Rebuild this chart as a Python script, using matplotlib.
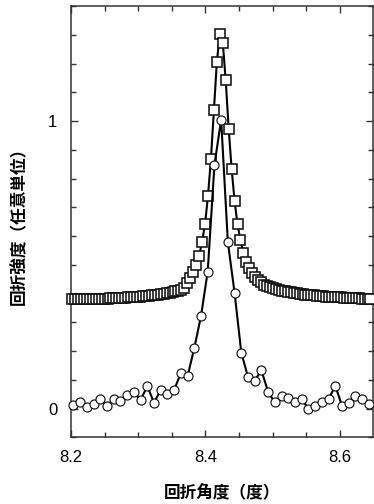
import matplotlib
matplotlib.use("Agg")
import matplotlib.pyplot as plt
from matplotlib.ticker import MultipleLocator, FixedLocator

# ---- data ----
sq_x = [8.2015, 8.2059, 8.2103, 8.2147, 8.2191, 8.2235, 8.2279, 8.2323, 8.2367, 8.2411,
        8.2455, 8.2499, 8.2543, 8.2587, 8.2631, 8.2675, 8.2719, 8.2763, 8.2807, 8.2851,
        8.2895, 8.2939, 8.2983, 8.3027, 8.3071, 8.3115, 8.3159, 8.3203, 8.3247, 8.3291,
        8.3335, 8.3379, 8.3423, 8.3467, 8.3511, 8.3555, 8.3599, 8.3643, 8.3687, 8.3731,
        8.3775, 8.3819, 8.3863, 8.3907, 8.3951, 8.3995, 8.4039, 8.4083, 8.4127, 8.4171,
        8.4215, 8.4259, 8.4303, 8.4347, 8.4391, 8.4435, 8.4479, 8.4523, 8.4567, 8.4611,
        8.4655, 8.4699, 8.4743, 8.4787, 8.4831, 8.4875, 8.4919, 8.4963, 8.5007, 8.5051,
        8.5095, 8.5139, 8.5183, 8.5227, 8.5271, 8.5315, 8.5359, 8.5403, 8.5447, 8.5491,
        8.5535, 8.5579, 8.5623, 8.5667, 8.5711, 8.5755, 8.5799, 8.5843, 8.5887, 8.5931,
        8.5975, 8.6019, 8.6063, 8.6107, 8.6151, 8.6195, 8.6239, 8.6283, 8.6327, 8.6371,
        8.6415, 8.6459]
sq_y = [0.380, 0.380, 0.380, 0.381, 0.381, 0.381, 0.381, 0.382, 0.382, 0.382,
        0.383, 0.383, 0.383, 0.384, 0.384, 0.385, 0.385, 0.386, 0.386, 0.387,
        0.388, 0.388, 0.389, 0.390, 0.391, 0.392, 0.393, 0.394, 0.395, 0.397,
        0.398, 0.400, 0.402, 0.404, 0.406, 0.408, 0.411, 0.414,
        0.418, 0.436, 0.455, 0.476, 0.499, 0.532, 0.580, 0.642, 0.740, 0.869,
        1.037, 1.206, 1.302, 1.273, 1.142, 0.974, 0.834, 0.722, 0.641, 0.585,
        0.542, 0.511, 0.490, 0.473, 0.459, 0.447, 0.439, 0.430,
        0.426, 0.422, 0.419, 0.416, 0.413, 0.411, 0.409, 0.407, 0.405, 0.403,
        0.401, 0.400, 0.398, 0.397, 0.396, 0.395, 0.394, 0.393, 0.392, 0.391,
        0.390, 0.389, 0.389, 0.388, 0.387, 0.387, 0.386, 0.386, 0.385, 0.385,
        0.384, 0.384, 0.383, 0.383, 0.382, 0.382]

ci_x = [8.2035, 8.2135, 8.2235, 8.2335, 8.2435, 8.2535, 8.2635, 8.2735, 8.2835, 8.2935,
        8.3035, 8.3135, 8.3235, 8.3335, 8.3435, 8.3535, 8.3635, 8.3735, 8.3835, 8.3935,
        8.4035, 8.4135, 8.4235, 8.4335, 8.4435, 8.4535, 8.4635, 8.4735, 8.4835, 8.4935,
        8.5035, 8.5135, 8.5235, 8.5335, 8.5435, 8.5535, 8.5635, 8.5735, 8.5835, 8.5935,
        8.6035, 8.6135, 8.6235, 8.6335, 8.6435]
ci_y = [0.014, 0.022, 0.007, 0.016, 0.033, 0.010, 0.034, 0.026, 0.047, 0.058,
        0.030, 0.079, 0.021, 0.065, 0.051, 0.065, 0.124, 0.113, 0.211, 0.322,
        0.477, 0.847, 1.005, 0.579, 0.403, 0.195, 0.110, 0.098, 0.133, 0.058,
        0.022, 0.045, 0.036, 0.022, 0.034, -0.001, 0.010, 0.022, 0.033, 0.080,
        0.010, 0.021, 0.045, 0.033, 0.016]

x_ticks = [8.2, 8.4, 8.6]
x_ticklabels = ["8.2", "8.4", "8.6"]
x_minor = [8.25, 8.3, 8.35, 8.45, 8.5, 8.55]
y_ticks = [0, 1]
y_ticklabels = ["0", "1"]
xlabel = "回折角度（度）"
ylabel = "回折強度（任意単位）"

# ---- figure ----
fig = plt.figure(figsize=(3.74, 5.04), dpi=100)
ax = fig.add_axes([0.190, 0.132, 0.808, 0.856])

ax.plot(sq_x, sq_y, color="black", lw=1.5, marker="s", ms=7.6,
        mfc="white", mec="#111111", mew=1.15, clip_on=False, zorder=3)
ax.plot(ci_x, ci_y, color="black", lw=1.5, marker="o", ms=6.5,
        mfc="white", mec="#111111", mew=0.85, clip_on=False, zorder=4)

ax.set_xlim(8.2, 8.65)
ax.set_ylim(-0.1, 1.4)

ax.set_xticks(x_ticks)
ax.set_xticklabels(x_ticklabels)
ax.xaxis.set_minor_locator(FixedLocator(x_minor))
ax.set_yticks(y_ticks)
ax.set_yticklabels(y_ticklabels)
ax.yaxis.set_minor_locator(MultipleLocator(0.1))

ax.tick_params(which="both", direction="in", top=True, right=True,
               color="#333333", width=1.0)
ax.tick_params(which="major", length=5, pad=9, labelsize=12)
ax.tick_params(which="minor", length=3.5)
for lab in ax.get_xticklabels() + ax.get_yticklabels():
    lab.set_family(["Liberation Sans", "DejaVu Sans"])
ax.tick_params(axis="y", pad=10)

for sp in ax.spines.values():
    sp.set_linewidth(1.1)
    sp.set_color("#333333")

ax.set_xlabel(xlabel, family=["Noto Sans CJK JP", "DejaVu Sans"], fontsize=12,
              fontweight="bold", labelpad=14)
ax.set_ylabel(ylabel, family=["Noto Sans CJK JP", "DejaVu Sans"], fontsize=12,
              fontweight="bold", labelpad=14)

fig.savefig("out.png", dpi=100)
